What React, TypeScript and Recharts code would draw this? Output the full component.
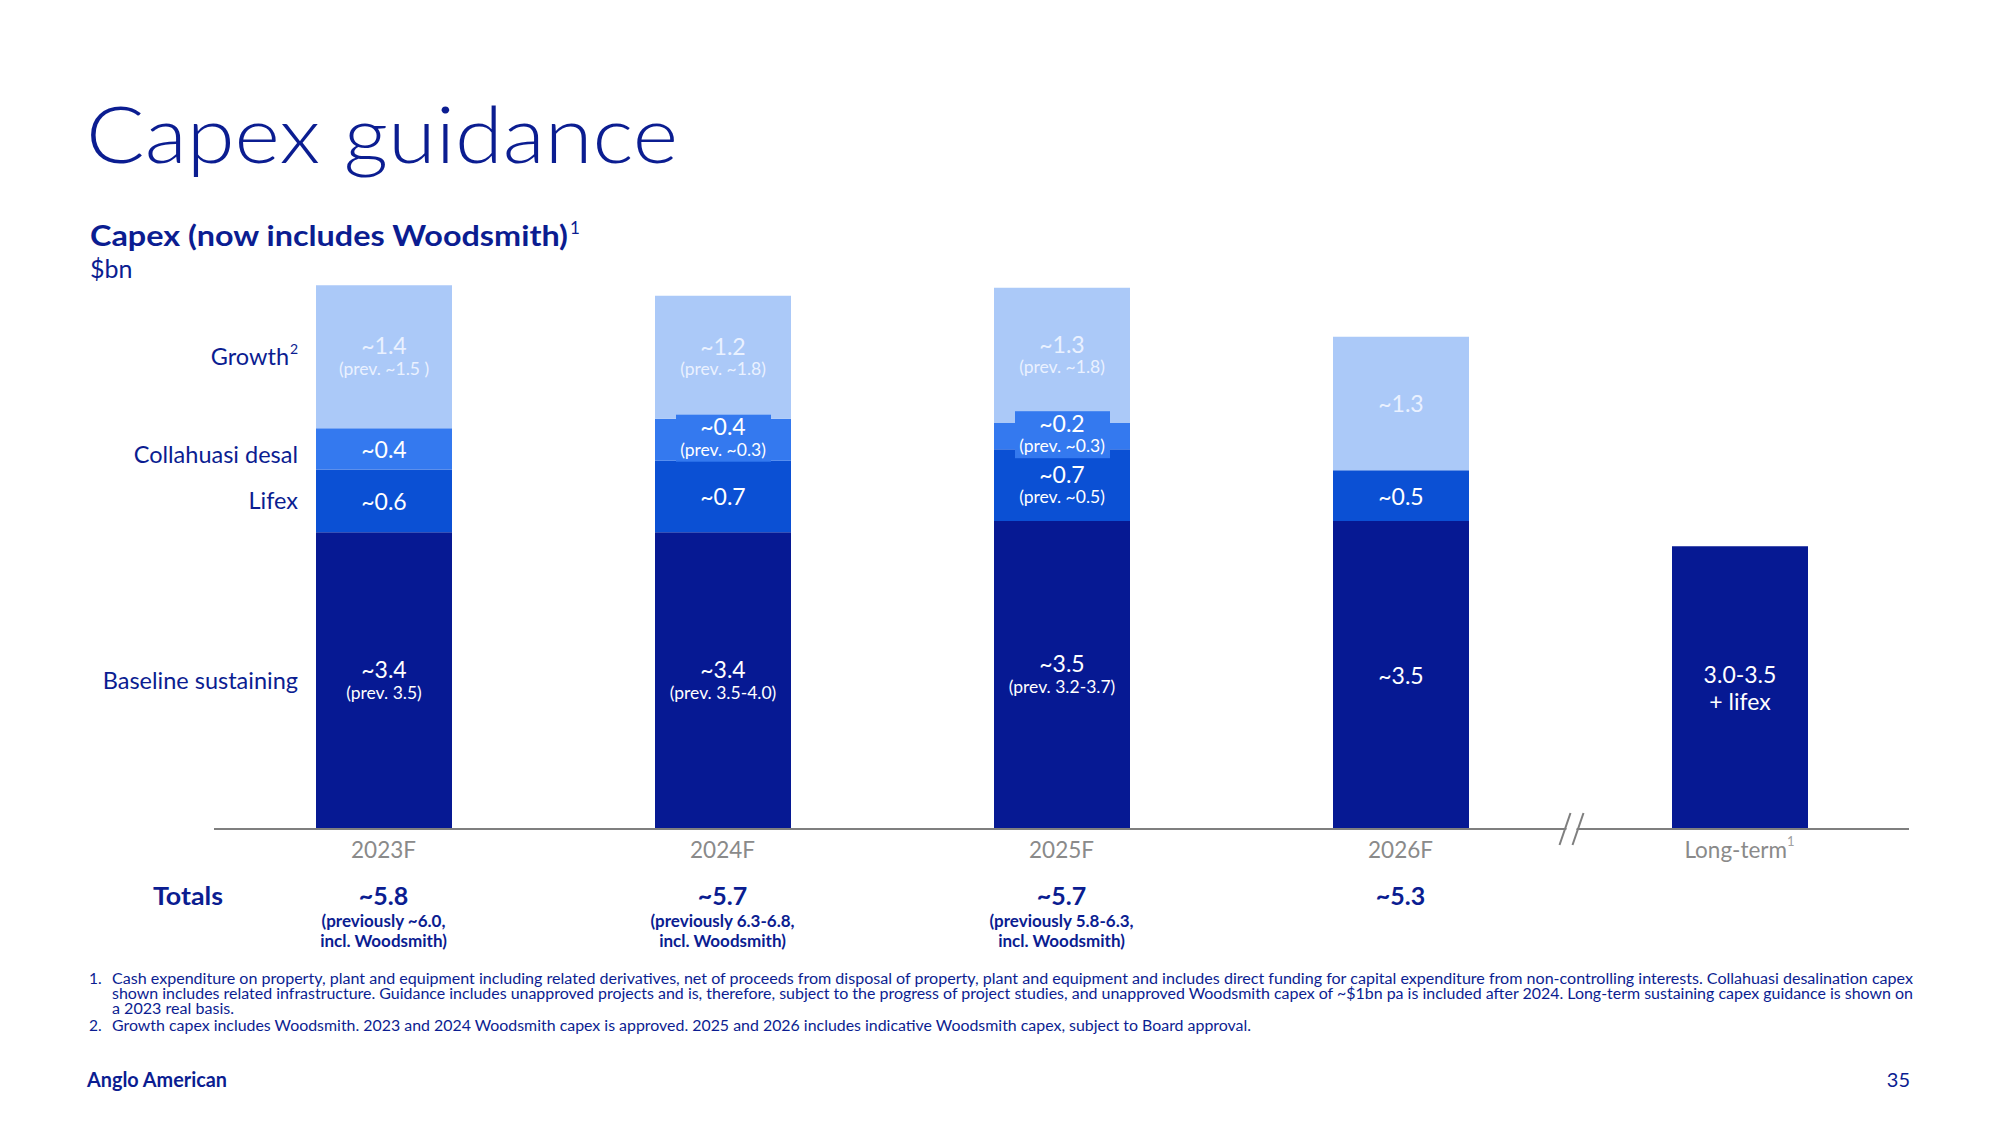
import { Bar, BarChart, LabelList, XAxis, YAxis } from "recharts";

const categories = ["2023F", "2024F", "2025F", "2026F", "Long-term"];
const baseline = [3.4, 3.4, 3.53, 3.53, 3.24];
const lifex = [0.72, 0.82, 0.82, 0.58, 0];
const desal = [0.47, 0.48, 0.3, 0, 0];
const growth = [1.64, 1.41, 1.55, 1.53, 0];

const baselineLabels = ["~3.4", "~3.4", "~3.5", "~3.5", "3.0-3.5"];
const baselinePrev = ["(prev. 3.5)", "(prev. 3.5-4.0)", "(prev. 3.2-3.7)", "", "+ lifex"];
const lifexLabels = ["~0.6", "~0.7", "~0.7", "~0.5", ""];
const lifexPrev = ["", "", "(prev. ~0.5)", "", ""];
const desalLabels = ["~0.4", "~0.4", "~0.2", "", ""];
const desalPrev = ["", "(prev. ~0.3)", "(prev. ~0.3)", "", ""];
const growthLabels = ["~1.4", "~1.2", "~1.3", "~1.3", ""];
const growthPrev = ["(prev. ~1.5 )", "(prev. ~1.8)", "(prev. ~1.8)", "", ""];

const totals = ["~5.8", "~5.7", "~5.7", "~5.3", ""];
const totalsPrev = ["(previously ~6.0,", "(previously 6.3-6.8,", "(previously 5.8-6.3,", "", ""];
const totalsNote = ["incl. Woodsmith)", "incl. Woodsmith)", "incl. Woodsmith)", "", ""];

const segmentNames = [
  { text: "Growth", sup: "2", y: 356 },
  { text: "Collahuasi desal", sup: "", y: 454 },
  { text: "Lifex", sup: "", y: 500 },
  { text: "Baseline sustaining", sup: "", y: 680 },
];

const footnotes = [
  "Cash expenditure on property, plant and equipment including related derivatives, net of proceeds from disposal of property, plant and equipment and includes direct funding for capital expenditure from non-controlling interests. Collahuasi desalination capex",
  "shown includes related infrastructure. Guidance includes unapproved projects and is, therefore, subject to the progress of project studies, and unapproved Woodsmith capex of ~$1bn pa is included after 2024. Long-term sustaining capex guidance is shown on",
  "a 2023 real basis.",
  "Growth capex includes Woodsmith. 2023 and 2024 Woodsmith capex is approved. 2025 and 2026 includes indicative Woodsmith capex, subject to Board approval.",
];

const data = categories.map((name, i) => ({
  name,
  baseline: baseline[i],
  lifex: lifex[i],
  desal: desal[i],
  growth: growth[i],
}));

const NAVY = "#0b1d91";
const FONT = "Lato, 'Open Sans', sans-serif";
const C_BASE = "#061993";
const C_LIFEX = "#0b50d4";
const C_DESAL = "#3479ef";
const C_GROWTH = "#abc9f8";

function box(props: any) {
  const vb = props.viewBox ?? props;
  return { x: Number(vb.x), y: Number(vb.y), w: Number(vb.width), h: Number(vb.height), i: Number(props.index) };
}

function TwoLines({ cx, cy, main, prev, color, big }: any) {
  if (!main) return null;
  if (!prev) {
    return (
      <text x={cx} y={cy} textAnchor="middle" dominantBaseline="central" fill={color} fontSize={23} fontFamily={FONT}>
        {main}
      </text>
    );
  }
  const gap = big ? 13.5 : 11.5;
  return (
    <g fontFamily={FONT} fill={color} textAnchor="middle">
      <text x={cx} y={cy - gap} dominantBaseline="central" fontSize={23}>
        {main}
      </text>
      <text x={cx} y={cy + gap} dominantBaseline="central" fontSize={big ? 23 : 17.5}>
        {prev}
      </text>
    </g>
  );
}

function makeLabel(mains: string[], prevs: string[], color: string, skip?: (i: number) => boolean) {
  return (props: any) => {
    const { x, y, w, h, i } = box(props);
    if (skip && skip(i)) return null;
    return <TwoLines cx={x + w / 2} cy={y + h / 2} main={mains[i]} prev={prevs[i]} color={color} big={i === 4} />;
  };
}

const hasDesalBox = (i: number) => desalPrev[i] !== "";

// growth layer is drawn last, so the boxed desal labels sit on it
function GrowthLabel(props: any) {
  const { x, y, w, h, i } = box(props);
  const cx = x + w / 2;
  const out = [];
  out.push(<TwoLines key="g" cx={cx} cy={y + h / 2} main={growthLabels[i]} prev={growthPrev[i]} color="#eaf1ff" />);
  if (hasDesalBox(i) && growth[i] > 0) {
    const ppu = h / growth[i];
    const dc = y + h + (desal[i] * ppu) / 2 - 2;
    out.push(<rect key="b" x={cx - 47} y={dc - 23} width={95} height={47} fill={C_DESAL} />);
    out.push(<TwoLines key="d" cx={cx} cy={dc} main={desalLabels[i]} prev={desalPrev[i]} color="#ffffff" />);
  }
  return <g>{out}</g>;
}

function CategoryTick(props: any) {
  const { x, y, payload } = props;
  const i = categories.indexOf(payload.value);
  const isLong = i === 4;
  return (
    <g fontFamily={FONT}>
      <text x={x} y={y + 20} textAnchor="middle" dominantBaseline="central" fill="#8a8a8a" fontSize={22.5}>
        {payload.value}
        {isLong && (
          <tspan dy={-8} fontSize={13} fill="#a0a0a0">
            1
          </tspan>
        )}
      </text>
      {isLong && (
        <g>
          <polygon points={`${x - 174},${y + 4} ${x - 164},${y + 4} ${x - 162},${y - 4} ${x - 172},${y - 4}`} fill="#ffffff" />
          <line x1={x - 180} y1={y + 16} x2={x - 169} y2={y - 16} stroke="#7f7f7f" strokeWidth={2} />
          <line x1={x - 167} y1={y + 16} x2={x - 156} y2={y - 16} stroke="#7f7f7f" strokeWidth={2} />
        </g>
      )}
      {totals[i] && (
        <g fill={NAVY} textAnchor="middle" fontWeight={700}>
          <text x={x} y={y + 66} dominantBaseline="central" fontSize={25}>
            {totals[i]}
          </text>
          <text x={x} y={y + 91} dominantBaseline="central" fontSize={17}>
            {totalsPrev[i]}
          </text>
          <text x={x} y={y + 111} dominantBaseline="central" fontSize={17}>
            {totalsNote[i]}
          </text>
        </g>
      )}
    </g>
  );
}

export default function App() {
  return (
    <div style={{ position: "absolute", left: 0, top: 0, width: 2000, height: 1125, background: "#ffffff", overflow: "hidden" }}>
      <svg width={2000} height={1125} style={{ position: "absolute", left: 0, top: 0 }} fontFamily={FONT}>
        <text x={86} y={163} fill={NAVY} fontSize={78} fontWeight={300} textLength={592} lengthAdjust="spacingAndGlyphs">
          Capex guidance
        </text>
        <text x={90} y={246} fill={NAVY} fontSize={29} fontWeight={700} textLength={478} lengthAdjust="spacingAndGlyphs">
          Capex (now includes Woodsmith)
        </text>
        <text x={570} y={234} fill={NAVY} fontSize={17}>
          1
        </text>
        <text x={90} y={278} fill={NAVY} fontSize={25}>
          $bn
        </text>
        {segmentNames.map((s) => (
          <text key={s.text} x={s.sup ? 289 : 298} y={s.y} textAnchor="end" dominantBaseline="central" fill={NAVY} fontSize={23.5}>
            {s.text}
          </text>
        ))}
        <text x={290} y={354} fill={NAVY} fontSize={14}>
          2
        </text>
        <text x={153} y={895} dominantBaseline="central" fill={NAVY} fontSize={25} fontWeight={700} textLength={70} lengthAdjust="spacingAndGlyphs">
          Totals
        </text>
        <g fill={NAVY} fontSize={15.5}>
          <text x={89} y={984}>1.</text>
          <text x={112} y={984} textLength={1801} lengthAdjust="spacingAndGlyphs">
            {footnotes[0]}
          </text>
          <text x={112} y={999} textLength={1801} lengthAdjust="spacingAndGlyphs">
            {footnotes[1]}
          </text>
          <text x={112} y={1014} textLength={122} lengthAdjust="spacingAndGlyphs">
            {footnotes[2]}
          </text>
          <text x={89} y={1031}>2.</text>
          <text x={112} y={1031} textLength={1139} lengthAdjust="spacingAndGlyphs">
            {footnotes[3]}
          </text>
        </g>
        <text x={87} y={1087} fill={NAVY} fontSize={20} fontWeight={700} textLength={140} lengthAdjust="spacingAndGlyphs">
          Anglo American
        </text>
        <text x={1910} y={1087} textAnchor="end" fill={NAVY} fontSize={20}>
          35
        </text>
      </svg>
      <div style={{ position: "absolute", left: 0, top: 0 }}>
        <BarChart
          width={2000}
          height={1125}
          data={data}
          barSize={136}
          margin={{ top: 218, right: 91, bottom: 166, left: 214 }}
        >
          <XAxis
            dataKey="name"
            height={130}
            interval={0}
            tickLine={false}
            tickSize={0}
            tickMargin={0}
            axisLine={{ stroke: "#7f7f7f", strokeWidth: 2 }}
            tick={<CategoryTick />}
          />
          <YAxis hide domain={[0, 7]} />
          <Bar dataKey="baseline" stackId="a" fill={C_BASE} isAnimationActive={false}>
            <LabelList dataKey="baseline" content={makeLabel(baselineLabels, baselinePrev, "#ffffff")} />
          </Bar>
          <Bar dataKey="lifex" stackId="a" fill={C_LIFEX} isAnimationActive={false}>
            <LabelList dataKey="lifex" content={makeLabel(lifexLabels, lifexPrev, "#ffffff")} />
          </Bar>
          <Bar dataKey="desal" stackId="a" fill={C_DESAL} isAnimationActive={false}>
            <LabelList dataKey="desal" content={makeLabel(desalLabels, desalPrev, "#ffffff", hasDesalBox)} />
          </Bar>
          <Bar dataKey="growth" stackId="a" fill={C_GROWTH} isAnimationActive={false}>
            <LabelList dataKey="growth" content={GrowthLabel} />
          </Bar>
        </BarChart>
      </div>
    </div>
  );
}
